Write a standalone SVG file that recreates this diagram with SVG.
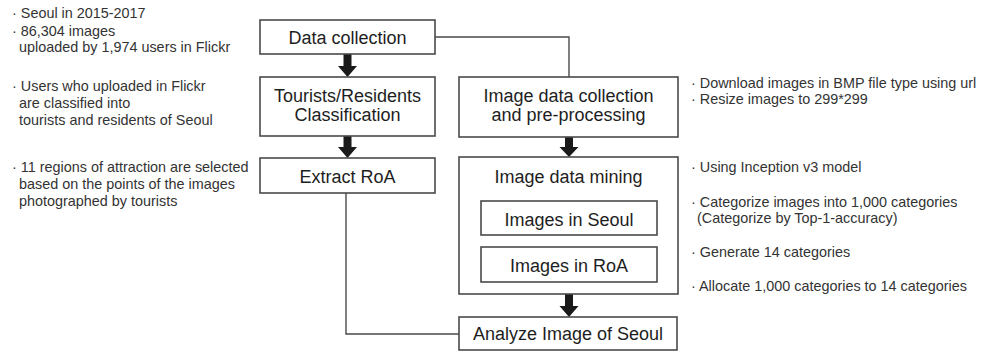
<svg xmlns="http://www.w3.org/2000/svg" width="986" height="353" viewBox="0 0 986 353">
<style>
.box{fill:#fff;stroke:#4a4a4a;stroke-width:1.6}
.t{font-family:"Liberation Sans",Arial,sans-serif;font-size:18px;fill:#1e1e1e;text-anchor:middle}
.n{font-family:"Liberation Sans",Arial,sans-serif;font-size:14.4px;fill:#333}
.c{fill:none;stroke:#4a4a4a;stroke-width:1.4}
.a{fill:#1a1a1a}
</style>
<rect width="986" height="353" fill="#fff"/>
<g id="connectors">
<polyline class="c" points="435,37 569,37 569,77"/>
<polyline class="c" points="346,193 346,334 459,334"/>
<polygon class="a" points="343.5,54 351.5,54 351.5,66 357,66 347.5,77 338,66 343.5,66"/>
<polygon class="a" points="343.5,136 351.5,136 351.5,147 357,147 347.5,158 338,147 343.5,147"/>
<polygon class="a" points="565,137 573,137 573,147 578.5,147 569,157 559.5,147 565,147"/>
<polygon class="a" points="565,294 573,294 573,306 578.5,306 569,317 559.5,306 565,306"/>
</g>
<g id="data-collection">
<rect class="box" x="260" y="20" width="175" height="34"/>
<text class="t" x="347.5" y="44">Data collection</text>
</g>
<g id="classification">
<rect class="box" x="260" y="77" width="175" height="59"/>
<text class="t" x="347.5" y="102">Tourists/Residents</text>
<text class="t" x="347.5" y="121">Classification</text>
</g>
<g id="extract-roa">
<rect class="box" x="260" y="158" width="175" height="35"/>
<text class="t" x="347.5" y="183">Extract RoA</text>
</g>
<g id="image-collection">
<rect class="box" x="459" y="77" width="219" height="60"/>
<text class="t" x="568.5" y="102">Image data collection</text>
<text class="t" x="568.5" y="121">and pre-processing</text>
</g>
<g id="image-mining">
<rect class="box" x="459" y="157" width="219" height="137"/>
<text class="t" x="568.5" y="183">Image data mining</text>
</g>
<g id="images-seoul">
<rect class="box" x="481" y="201" width="176" height="34"/>
<text class="t" x="569" y="226">Images in Seoul</text>
</g>
<g id="images-roa">
<rect class="box" x="481" y="247" width="176" height="35"/>
<text class="t" x="569" y="272">Images in RoA</text>
</g>
<g id="analyze">
<rect class="box" x="459" y="317" width="218" height="33"/>
<text class="t" x="568" y="340">Analyze Image of Seoul</text>
</g>
<g id="notes-left">
<text class="n" x="12" y="18">· Seoul in 2015-2017</text>
<text class="n" x="12" y="36">· 86,304 images</text>
<text class="n" x="19" y="52">uploaded by 1,974 users in Flickr</text>
<text class="n" x="12" y="91">· Users who uploaded in Flickr</text>
<text class="n" x="19" y="108">are classified into</text>
<text class="n" x="19" y="125">tourists and residents of Seoul</text>
<text class="n" x="12" y="172">· 11 regions of attraction are selected</text>
<text class="n" x="19" y="189">based on the points of the images</text>
<text class="n" x="19" y="206">photographed by tourists</text>
</g>
<g id="notes-right">
<text class="n" x="691" y="88">· Download images in BMP file type using url</text>
<text class="n" x="691" y="104">· Resize images to 299*299</text>
<text class="n" x="691" y="172">· Using Inception v3 model</text>
<text class="n" x="691" y="207">· Categorize images into 1,000 categories</text>
<text class="n" x="697" y="223">(Categorize by Top-1-accuracy)</text>
<text class="n" x="691" y="257">· Generate 14 categories</text>
<text class="n" x="691" y="291">· Allocate 1,000 categories to 14 categories</text>
</g>
</svg>
